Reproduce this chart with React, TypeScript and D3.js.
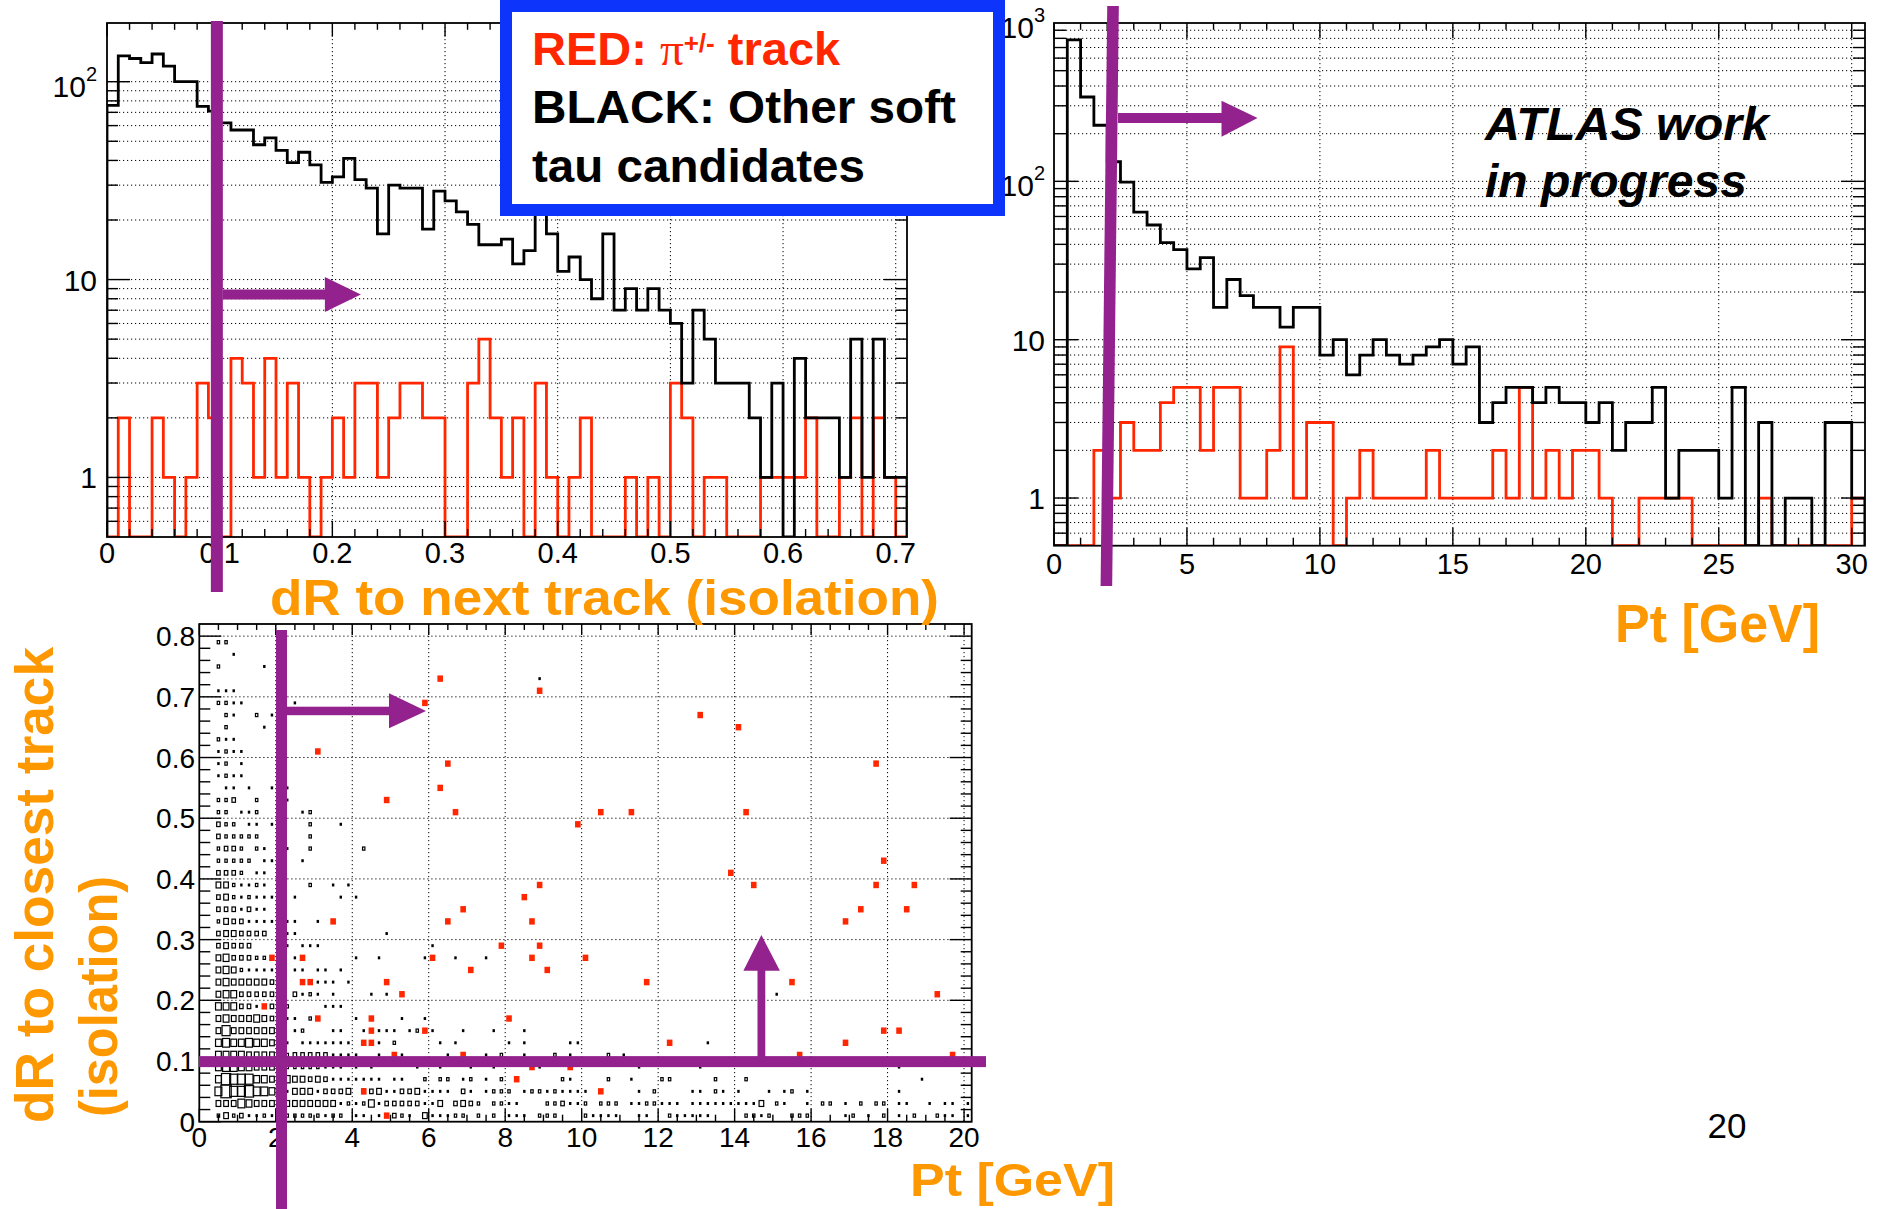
import React from "react";
import * as d3 from "d3";

const FONT = "'Liberation Sans', Arial, Helvetica, sans-serif";
const PURPLE = "#93228e";
const RED = "#ff2600";
const ORANGE = "#fd9800";
const BLUE = "#0c34fb";

// ---------- dR to next track: 71 bins of 0.01 (0 - 0.71) ----------
const dRBinWidth = 0.01;
const dROther = [
  76, 135, 131, 125, 138, 120, 100, 100, 75, 71,
  62, 57, 57, 48, 52, 45, 39, 44, 38, 31,
  33, 41, 32, 29, 17, 30, 29, 29, 18, 28,
  25, 22, 19, 15, 15, 16, 12, 14, 24, 17,
  11, 13, 10, 8, 17, 7, 9, 7, 9, 7,
  6, 3, 7, 5, 3, 3, 3, 2, 1, 3,
  0, 4, 2, 2, 2, 1, 5, 1, 5, 1, 1,
];
const dRPion = [
  0, 2, 0, 0, 2, 1, 0, 1, 3, 2,
  0, 4, 3, 1, 4, 1, 3, 1, 0, 1,
  2, 1, 3, 3, 1, 2, 3, 3, 2, 2,
  0, 0, 3, 5, 2, 1, 2, 0, 3, 1,
  0, 1, 2, 0, 0, 0, 1, 0, 1, 0,
  3, 2, 0, 1, 1, 0, 0, 0, 1, 1,
  1, 1, 2, 0, 0, 1, 2, 0, 2, 1, 0,
];
const dRTicks = [0, 0.1, 0.2, 0.3, 0.4, 0.5, 0.6, 0.7];
const dRTickLabels = ["0", "0.1", "0.2", "0.3", "0.4", "0.5", "0.6", "0.7"];

// ---------- Pt: 61 bins of 0.5 GeV (0 - 30.5) ----------
const ptBinWidth = 0.5;
const ptOther = [
  0, 783, 341, 226, 133, 99, 64, 53, 41, 37,
  28, 33, 16, 24, 19, 16, 16, 12, 16, 16,
  8, 10, 6, 8, 10, 8, 7, 8, 9, 10,
  7, 9, 3, 4, 5, 5, 4, 5, 4, 4,
  3, 4, 2, 3, 3, 5, 1, 2, 2, 2,
  1, 5, 0, 3, 0, 1, 1, 0, 3, 3, 1,
];
const ptPion = [
  0, 0, 0, 2, 1, 3, 2, 2, 4, 5,
  5, 2, 5, 5, 1, 1, 2, 9, 1, 3,
  3, 0, 1, 2, 1, 1, 1, 1, 2, 1,
  1, 1, 1, 2, 1, 5, 1, 2, 1, 2,
  2, 1, 0, 0, 1, 1, 1, 1, 0, 0,
  0, 0, 0, 1, 0, 0, 0, 0, 0, 0, 1,
];
const ptTicks = [0, 5, 10, 15, 20, 25, 30];

// ---------- 2D map: Pt (0.2 GeV bins) vs dR to closest track (0.02 bins) ----------
// one string per dR bin (bottom row first): "ptBin:boxSize" pairs
const mapPtBin = 0.2;
const mapDRBin = 0.02;
const mapOther = [
  "2:2 3:4 4:2 5:3 6:1 7:1 8:2 9:1 11:2 12:2 13:2 14:2 15:2 16:1 17:2 18:2 20:1 21:1 23:1 25:3 26:2 27:1 29:4 30:1 31:1 32:1 33:2 34:2 36:2 38:2 40:1 41:1 42:1 44:2 45:2 46:2 50:2 51:1 52:1 53:1 54:1 57:1 58:1 61:2 62:1 63:1 64:1 65:1 66:1 71:2 72:2 73:1 74:2 77:2 78:2 79:2 84:1 85:2 87:1 89:2 91:1 93:2 96:2 97:1 98:1 100:1",
  "2:4 3:4 4:4 5:6 6:5 7:4 8:4 9:4 11:4 12:4 13:4 14:4 15:4 16:4 17:4 18:1 19:2 20:1 21:2 22:5 23:1 24:3 25:3 26:3 27:3 28:3 29:1 30:1 31:4 33:3 34:4 35:3 36:2 38:2 39:2 40:1 41:1 45:2 46:2 47:3 48:1 49:1 50:2 52:2 53:2 54:2 56:1 57:1 58:2 59:2 60:1 61:1 62:1 64:1 65:1 66:1 67:1 68:1 69:1 70:1 71:1 72:1 73:4 75:2 76:1 79:1 81:2 82:2 84:1 86:2 88:2 89:2 91:1 92:1 95:1 97:1 98:1 100:1",
  "2:6 3:9 4:7 5:7 6:8 7:6 8:6 9:5 11:1 12:4 13:4 14:4 15:1 16:3 17:3 18:3 19:4 21:3 22:3 23:4 24:1 25:1 26:3 27:3 28:4 29:1 30:1 31:1 32:1 34:3 35:1 37:1 38:2 39:2 40:2 42:1 43:2 44:2 45:1 46:2 47:1 48:1 49:1 50:1 57:1 59:2 64:1 65:1 67:2 68:1 70:1 74:1 76:1 77:2 79:1 91:1",
  "2:5 3:8 4:7 5:7 6:7 7:5 8:5 9:4 11:5 12:4 13:4 14:3 15:4 16:3 17:1 18:1 19:1 20:1 21:1 22:1 23:1 25:1 26:1 29:2 31:2 32:2 34:1 35:2 37:1 39:2 47:2 48:1 53:2 56:1 60:2 61:2 67:2 71:2 94:1",
  "2:5 3:6 4:6 5:5 6:5 7:4 8:4 9:4 11:2 12:2 13:2 14:2 15:2 16:1 17:1 18:1 20:1 22:1 28:1 31:1 35:1 38:1 44:1 57:1 65:1 91:1",
  "2:5 3:5 4:5 5:5 6:4 7:4 8:4 9:4 11:2 12:3 13:3 14:3 15:3 16:3 17:1 18:1 19:1 20:1 23:1 26:1 32:1 37:1 39:2 42:1 46:2 48:1 53:2 55:1",
  "2:5 3:6 4:5 5:5 6:6 7:5 8:5 9:4 11:1 13:1 14:1 15:1 16:1 17:1 18:1 19:1 23:1 25:2 31:1 33:1 40:1 42:1 48:1 49:1 66:1",
  "2:4 3:7 4:4 5:4 6:4 7:4 8:4 9:4 12:1 13:2 17:1 18:1 21:1 23:1 24:1 25:1 27:1 28:2 30:1 34:1 38:1 42:1",
  "2:4 3:5 4:4 5:4 6:4 7:5 8:4 9:3 11:1 12:1 14:2 20:1 26:1 29:1",
  "2:5 3:5 4:5 5:3 6:3 7:1 9:3 11:2 16:1 17:1 18:1",
  "2:4 3:5 4:5 5:3 6:3 7:3 8:3 9:3 12:3 13:1 14:2 15:1 17:1 22:1 24:1 75:1",
  "2:4 3:5 4:4 5:4 6:4 7:4 8:4 9:3 15:1 16:1 17:1 19:1",
  "2:4 3:5 4:4 5:2 6:1 7:1 8:1 9:1 12:1 13:1 15:1 16:1 18:1",
  "2:4 3:5 4:3 5:3 6:3 7:2 8:2 12:1 20:1 23:1 29:1 33:1 37:1",
  "2:3 3:4 4:3 5:3 6:3 11:1 13:1 14:1 15:1 30:1",
  "2:3 3:4 4:4 5:3 6:3 7:3 8:3 11:1 12:1 24:1",
  "2:2 3:4 4:3 5:3 6:1 7:1 8:1 9:1 11:1 12:1 15:1",
  "2:3 3:3 4:3 5:1 6:3 7:1 8:1",
  "2:3 3:4 4:2 5:1 6:2 7:1 8:1 9:1 12:1 18:1 20:1",
  "2:4 3:4 4:2 5:1 6:1 7:2 8:1 14:2 17:1 19:1",
  "2:3 3:3 4:3 5:2 7:1 8:1",
  "2:2 3:2 4:2 5:2 6:2 8:1 9:1 13:1",
  "2:2 3:3 4:3 5:2 7:2 8:1 11:1 14:2 21:2",
  "2:3 3:2 4:2 5:2 6:2 7:2 14:2",
  "2:3 3:2 4:2 6:1 7:1 9:1 14:2 18:1",
  "2:2 3:2 5:1 6:1 7:2 13:1 14:2",
  "2:2 3:2 4:3 7:2 11:1",
  "3:1 4:1 6:1 9:1 11:1",
  "2:1 3:2 4:1 5:1",
  "2:1 3:2 5:1",
  "2:1 3:2 4:1 5:1",
  "2:2 3:1 4:1",
  "3:2 8:1",
  "3:2 4:1 7:2 9:1",
  "2:2 3:2 4:1 5:1 12:1",
  "2:1 3:1 4:1",
  "44:1",
  "2:2 8:1",
  "4:1",
  "2:2 3:2",
  "",
];
// pion candidates: [ptBin, dRBin]
const mapPion: [number, number][] = [
  [31, 36], [44, 35], [29, 34], [65, 33], [70, 32], [15, 30], [32, 29], [88, 29],
  [31, 27], [24, 26], [33, 25], [52, 25], [56, 25], [71, 25], [49, 24], [89, 21],
  [69, 20], [44, 19], [72, 19], [88, 19], [93, 19], [42, 18], [34, 17], [86, 17],
  [92, 17], [17, 16], [32, 16], [43, 16], [84, 16], [39, 14], [44, 14], [9, 13],
  [13, 13], [30, 13], [43, 13], [50, 13], [35, 12], [45, 12], [13, 11], [14, 11],
  [24, 11], [58, 11], [77, 11], [26, 10], [96, 10], [8, 9], [15, 8], [22, 8],
  [40, 8], [22, 7], [29, 7], [89, 7], [91, 7], [21, 6], [22, 6], [61, 6], [84, 6],
  [25, 5], [34, 5], [78, 5], [98, 5], [43, 4], [48, 4], [41, 3], [21, 2], [52, 2], [24, 0],
];
const mapPtTicks = [0, 2, 4, 6, 8, 10, 12, 14, 16, 18, 20];
const mapDRTicks = [0, 0.1, 0.2, 0.3, 0.4, 0.5, 0.6, 0.7, 0.8];
const mapDRLabels = ["0", "0.1", "0.2", "0.3", "0.4", "0.5", "0.6", "0.7", "0.8"];

// selection cuts marked on the plots
const dRCut = 0.0975;
const ptCutTop = 2.22;
const ptCutBottom = 1.97;
const mapPtCut = 2.15;
const mapDRCut = 0.099;
const mapArrowPt = 14.7;

type Frame = { l: number; r: number; t: number; b: number };
type TickLen = { xMaj: number; xMin: number; yMaj: number; yMin: number };

const F1: Frame = { l: 107, r: 907, t: 23, b: 537 };
const F2: Frame = { l: 1054, r: 1865, t: 23, b: 545.7 };
const F3: Frame = { l: 199.3, r: 971.7, t: 624, b: 1121.7 };

const dotted = { stroke: "#000", strokeWidth: 1, strokeDasharray: "1.2 2.8" };

function logTickValues(lo: number, hi: number) {
  const out: { v: number; major: boolean }[] = [];
  for (let e = -1; e <= 3; e++)
    for (let m = 1; m <= 9; m++) {
      const v = +(m * Math.pow(10, e)).toPrecision(3);
      if (v > lo * 1.001 && v < hi * 0.999) out.push({ v, major: m === 1 });
    }
  return out;
}

function stepPath(values: number[], binW: number, x: (v: number) => number, y: (v: number) => number, floor: number) {
  let d = `M${x(0)},${floor}`;
  values.forEach((v, i) => {
    const yy = v > 0 ? y(v) : floor;
    d += `V${yy}H${x((i + 1) * binW)}`;
  });
  return d + `V${floor}`;
}

function FrameTicks({ f, xs, ys, tl }: { f: Frame; xs: { px: number; major: boolean }[]; ys: { py: number; major: boolean }[]; tl: TickLen }) {
  return (
    <g stroke="#000" strokeWidth={1.4}>
      {xs.map((t, i) => {
        const L = t.major ? tl.xMaj : tl.xMin;
        return (
          <g key={"x" + i}>
            <line x1={t.px} x2={t.px} y1={f.b} y2={f.b - L} />
            <line x1={t.px} x2={t.px} y1={f.t} y2={f.t + L * 0.85} />
          </g>
        );
      })}
      {ys.map((t, i) => {
        const L = t.major ? tl.yMaj : tl.yMin;
        return (
          <g key={"y" + i}>
            <line x1={f.l} x2={f.l + L} y1={t.py} y2={t.py} />
            <line x1={f.r} x2={f.r - L} y1={t.py} y2={t.py} />
          </g>
        );
      })}
      <rect x={f.l} y={f.t} width={f.r - f.l} height={f.b - f.t} fill="none" strokeWidth={1.8} />
    </g>
  );
}

type YLab = { v: number; t: string; sup?: string };

function LogHist(props: {
  id: string; f: Frame; x: d3.ScaleLinear<number, number>; y: d3.ScaleLogarithmic<number, number>;
  binW: number; other: number[]; pion: number[]; xMajor: number[]; xMinor: number[]; xGrid: number[];
  xLabels: string[]; xLabelY: number; yLabels: YLab[]; yLabelX: number; tl: TickLen;
}) {
  const { id, f, x, y, binW, other, pion, xMajor, xMinor, xGrid, xLabels, xLabelY, yLabels, yLabelX, tl } = props;
  const [lo, hi] = y.domain();
  const yt = logTickValues(lo, hi);
  return (
    <g>
      <defs>
        <clipPath id={id}>
          <rect x={f.l} y={f.t} width={f.r - f.l} height={f.b - f.t} />
        </clipPath>
      </defs>
      <g {...dotted}>
        {xGrid.map((v) => <line key={"gx" + v} x1={x(v)} x2={x(v)} y1={f.t} y2={f.b} />)}
        {yt.map((t) => <line key={"gy" + t.v} x1={f.l} x2={f.r} y1={y(t.v)} y2={y(t.v)} />)}
      </g>
      <g clipPath={`url(#${id})`} fill="none" strokeWidth={2.8}>
        <path d={stepPath(pion, binW, x, y, f.b)} stroke={RED} />
        <path d={stepPath(other, binW, x, y, f.b)} stroke="#000" />
      </g>
      <FrameTicks
        f={f}
        tl={tl}
        xs={[...xMinor.map((v) => ({ px: x(v), major: false })), ...xMajor.map((v) => ({ px: x(v), major: true }))]}
        ys={yt.map((t) => ({ py: y(t.v), major: t.major }))}
      />
      <g fontSize={29} textAnchor="middle" fill="#000">
        {xMajor.map((v, i) => (
          <text key={"xl" + i} x={x(v)} y={xLabelY}>{xLabels[i]}</text>
        ))}
      </g>
      <g fontSize={30} textAnchor="end" fill="#000">
        {yLabels.map((l, i) =>
          l.sup ? (
            <text key={"yl" + i} x={yLabelX} y={y(l.v) + 15}>
              {l.t}
              <tspan dy={-16} fontSize={20}>{l.sup}</tspan>
            </text>
          ) : (
            <text key={"yl" + i} x={yLabelX} y={y(l.v) + 11}>{l.t}</text>
          )
        )}
      </g>
    </g>
  );
}

function BoxMap() {
  const f = F3;
  const x = d3.scaleLinear().domain([0, 20.2]).range([f.l, f.r]);
  const y = d3.scaleLinear().domain([0, 0.82]).range([f.b, f.t]);
  const bw = d3.scaleLinear().domain([0, 9]).range([1.3, 11.5]);
  const bh = d3.scaleLinear().domain([0, 9]).range([1.6, 14]);
  const cells = mapOther.flatMap((row, k) =>
    row
      ? row.split(" ").map((p) => {
          const [j, c] = p.split(":").map(Number);
          return { j, k, c };
        })
      : []
  );
  const xMinor = d3.range(0.5, 20.1, 0.5).filter((v) => Math.abs(v / 2 - Math.round(v / 2)) > 1e-6);
  const yMinor = d3.range(0.02, 0.82, 0.02).map((v) => +v.toFixed(2)).filter((v) => Math.abs(v * 10 - Math.round(v * 10)) > 1e-6);
  return (
    <g>
      <g {...dotted}>
        {mapPtTicks.slice(1).map((v) => <line key={"gx" + v} x1={x(v)} x2={x(v)} y1={f.t} y2={f.b} />)}
        {mapDRTicks.slice(1).map((v) => <line key={"gy" + v} x1={f.l} x2={f.r} y1={y(v)} y2={y(v)} />)}
      </g>
      <g>
        {cells.map((c, i) => {
          const cx = x((c.j + 0.5) * mapPtBin);
          const cy = y((c.k + 0.5) * mapDRBin);
          const w = bw(c.c);
          const h = bh(c.c);
          return c.c <= 1 ? (
            <rect key={"b" + i} x={cx - w / 2} y={cy - h / 2} width={w} height={h} fill="#000" />
          ) : (
            <rect key={"b" + i} x={cx - w / 2 + 0.6} y={cy - h / 2 + 0.6} width={w - 1.2} height={h - 1.2} fill="none" stroke="#000" strokeWidth={1.2} />
          );
        })}
      </g>
      <g fill={RED}>
        {mapPion.map(([j, k], i) => {
          const cx = x((j + 0.5) * mapPtBin);
          const cy = y((k + 0.5) * mapDRBin);
          return <rect key={"r" + i} x={cx - 2.8} y={cy - 3.2} width={5.6} height={6.4} />;
        })}
      </g>
      <FrameTicks
        f={f}
        tl={{ xMaj: 13, xMin: 7, yMaj: 22, yMin: 11 }}
        xs={[...xMinor.map((v) => ({ px: x(v), major: false })), ...mapPtTicks.map((v) => ({ px: x(v), major: true }))]}
        ys={[...yMinor.map((v) => ({ py: y(v), major: false })), ...mapDRTicks.map((v) => ({ py: y(v), major: true }))]}
      />
      <g fontSize={28} textAnchor="middle">
        {mapPtTicks.map((v) => <text key={"xl" + v} x={x(v)} y={1147}>{String(v)}</text>)}
      </g>
      <g fontSize={28} textAnchor="end">
        {mapDRTicks.map((v, i) => <text key={"yl" + v} x={195} y={y(v) + 10}>{mapDRLabels[i]}</text>)}
      </g>
    </g>
  );
}

export default function App() {
  const x1 = d3.scaleLinear().domain([0, 0.71]).range([F1.l, F1.r]);
  const y1 = d3.scaleLog().domain([0.5, 198]).range([F1.b, F1.t]);
  const x2 = d3.scaleLinear().domain([0, 30.5]).range([F2.l, F2.r]);
  const y2 = d3.scaleLog().domain([0.5, 1000]).range([F2.b, F2.t]);
  const x3 = d3.scaleLinear().domain([0, 20.2]).range([F3.l, F3.r]);
  const y3 = d3.scaleLinear().domain([0, 0.82]).range([F3.b, F3.t]);

  const dRMinor = d3.range(0.02, 0.705, 0.02).map((v) => +v.toFixed(2)).filter((v) => Math.abs(v * 10 - Math.round(v * 10)) > 1e-6);
  const ptMinor = d3.range(1, 31, 1).filter((v) => v % 5 !== 0);

  // cut annotations
  const cx1 = x1(dRCut);
  const cxTop = x2(ptCutTop);
  const cxBot = x2(ptCutBottom);
  const cx3 = x3(mapPtCut);
  const cy3 = y3(mapDRCut);
  const ax3 = x3(mapArrowPt);

  return (
    <svg
      width={1881}
      height={1209}
      viewBox="0 0 1881 1209"
      style={{ position: "fixed", left: 0, top: 0, background: "#fff" }}
      fontFamily={FONT}
    >
      <rect x={0} y={0} width={1881} height={1209} fill="#fff" />

      <LogHist
        id="clipDR"
        f={F1}
        x={x1}
        y={y1}
        binW={dRBinWidth}
        other={dROther}
        pion={dRPion}
        xMajor={dRTicks}
        xMinor={dRMinor}
        xGrid={dRTicks.slice(1)}
        xLabels={dRTickLabels}
        xLabelY={563}
        yLabels={[{ v: 1, t: "1" }, { v: 10, t: "10" }, { v: 100, t: "10", sup: "2" }]}
        yLabelX={97}
        tl={{ xMaj: 16, xMin: 8, yMaj: 23, yMin: 11 }}
      />

      <LogHist
        id="clipPt"
        f={F2}
        x={x2}
        y={y2}
        binW={ptBinWidth}
        other={ptOther}
        pion={ptPion}
        xMajor={ptTicks}
        xMinor={ptMinor}
        xGrid={ptTicks.slice(1)}
        xLabels={ptTicks.map(String)}
        xLabelY={574}
        yLabels={[{ v: 1, t: "1" }, { v: 10, t: "10" }, { v: 100, t: "10", sup: "2" }, { v: 1000, t: "10", sup: "3" }]}
        yLabelX={1045}
        tl={{ xMaj: 18, xMin: 8, yMaj: 24, yMin: 12 }}
      />

      <BoxMap />

      {/* legend */}
      <rect x={506} y={6} width={493} height={204} fill="#fff" stroke={BLUE} strokeWidth={12} />
      <g fontWeight="bold" fontSize={47}>
        <text x={532} y={65} fill={RED}>
          RED:{" "}
          <tspan fontFamily="'Liberation Serif', 'DejaVu Serif', serif" fontWeight="normal">π</tspan>
          <tspan dy={-13} fontSize={26}>+/-</tspan>
          <tspan dy={13}> track</tspan>
        </text>
        <text x={532} y={123} fill="#000" textLength={424} lengthAdjust="spacingAndGlyphs">BLACK: Other soft</text>
        <text x={532} y={182} fill="#000" textLength={333} lengthAdjust="spacingAndGlyphs">tau candidates</text>
      </g>

      {/* ATLAS label */}
      <g fontWeight="bold" fontStyle="italic" fontSize={47} fill="#000">
        <text x={1485} y={140} textLength={284} lengthAdjust="spacingAndGlyphs">ATLAS work</text>
        <text x={1485} y={197} textLength={262} lengthAdjust="spacingAndGlyphs">in progress</text>
      </g>

      {/* axis titles */}
      <g fontWeight="bold" fill={ORANGE}>
        <text x={270} y={615} fontSize={50} textLength={669} lengthAdjust="spacingAndGlyphs">dR to next track (isolation)</text>
        <text x={1615} y={642} fontSize={53} textLength={205} lengthAdjust="spacingAndGlyphs">Pt [GeV]</text>
        <text x={910} y={1196} fontSize={47} textLength={205} lengthAdjust="spacingAndGlyphs">Pt [GeV]</text>
        <text transform="translate(53,1123) rotate(-90)" fontSize={53} textLength={476} lengthAdjust="spacingAndGlyphs">dR to closest track</text>
        <text transform="translate(117,1117) rotate(-90)" fontSize={53} textLength={241} lengthAdjust="spacingAndGlyphs">(isolation)</text>
      </g>

      <text x={1727} y={1138} fontSize={35} textAnchor="middle" fill="#000">20</text>

      {/* cut annotations */}
      <g fill={PURPLE}>
        <rect x={cx1 - 6} y={21} width={12} height={571} />
        <rect x={cx1 + 6} y={289.5} width={103} height={10} />
        <polygon points={`${cx1 + 108},277 ${cx1 + 144},294.5 ${cx1 + 108},312`} />

        <polygon points={`${cxTop - 5.8},6 ${cxTop + 5.8},6 ${cxBot + 5.8},586 ${cxBot - 5.8},586`} />
        <rect x={cxTop + 5} y={113} width={104} height={10} />
        <polygon points={`${cxTop + 108.5},100.7 ${cxTop + 144.5},118 ${cxTop + 108.5},136.7`} />

        <rect x={cx3 - 5.5} y={630} width={11} height={579} />
        <rect x={cx3 + 5} y={706.7} width={103} height={8.5} />
        <polygon points={`${cx3 + 107.5},693.3 ${cx3 + 144.5},711 ${cx3 + 107.5},728.3`} />

        <rect x={199} y={cy3 - 5.5} width={787} height={11} />
        <rect x={ax3 - 3.9} y={970} width={7.8} height={cy3 - 970} />
        <polygon points={`${ax3 - 18},970.7 ${ax3},935 ${ax3 + 18.5},970.7`} />
      </g>
    </svg>
  );
}
